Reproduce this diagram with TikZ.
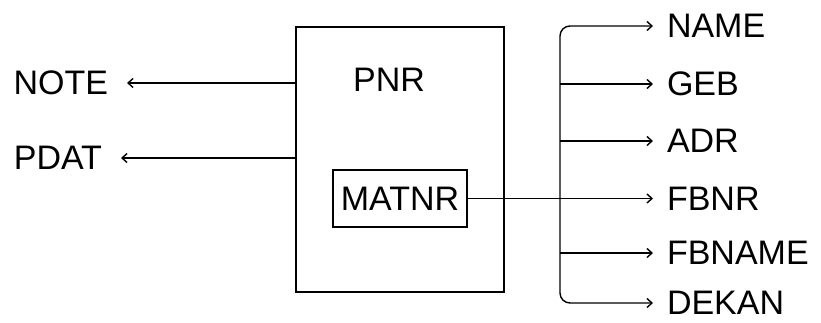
\documentclass[tikz,border=0pt]{standalone}
\usepackage{fontspec}
\setmainfont{Liberation Sans}
\usetikzlibrary{arrows.meta,positioning,calc}

\begin{document}
\begin{tikzpicture}[
  x=1pt,y=-1pt,
  font=\fontsize{34}{40}\selectfont,
  every node/.style={inner sep=0pt,outer sep=0pt},
  box/.style={draw,line width=1.4pt,minimum width=#1},
  label/.style={inner xsep=#1},
  label/.default=14pt,
  arrow/.style={-{Straight Barb[length=5pt,width=9pt]},line width=1.4pt},
]
\useasboundingbox (0,0) rectangle (821,323);
\node[box=208pt,minimum height=265pt] (pnrbox) at (400,159.5) {};
\node (pnr) at (389,80) {PNR};
\node[box=134pt,minimum height=57pt] (matnr) at (400,198.5) {MATNR};
\node[label=19pt,anchor=east] (note) at (127,83)  {NOTE};
\node[label=19pt,anchor=east] (pdat) at (121,158) {PDAT};
\node[label,anchor=west] (name)   at (653,26)  {NAME};
\node[label,anchor=west] (geb)    at (653,84)  {GEB};
\node[label,anchor=west] (adr)    at (653,141) {ADR};
\node[label,anchor=west] (fbnr)   at (653,198.5) {FBNR};
\node[label,anchor=west] (fbname) at (653,253) {FBNAME};
\node[label,anchor=west] (dekan)  at (653,303) {DEKAN};
\coordinate (bus) at (560,198.5);
\draw[arrow] (note.east -| pnrbox.west) -- (note.east);
\draw[arrow] (pdat.east -| pnrbox.west) -- (pdat.east);
\draw[arrow] (matnr) -- (fbnr);
\draw[arrow,rounded corners=10pt] (bus) |- (name.west);
\draw[arrow,rounded corners=10pt] (bus) |- (dekan.west);
\draw[arrow] (geb.west -| bus) -- (geb.west);
\draw[arrow] (adr.west -| bus) -- (adr.west);
\draw[arrow] (fbname.west -| bus) -- (fbname.west);
\end{tikzpicture}
\end{document}
